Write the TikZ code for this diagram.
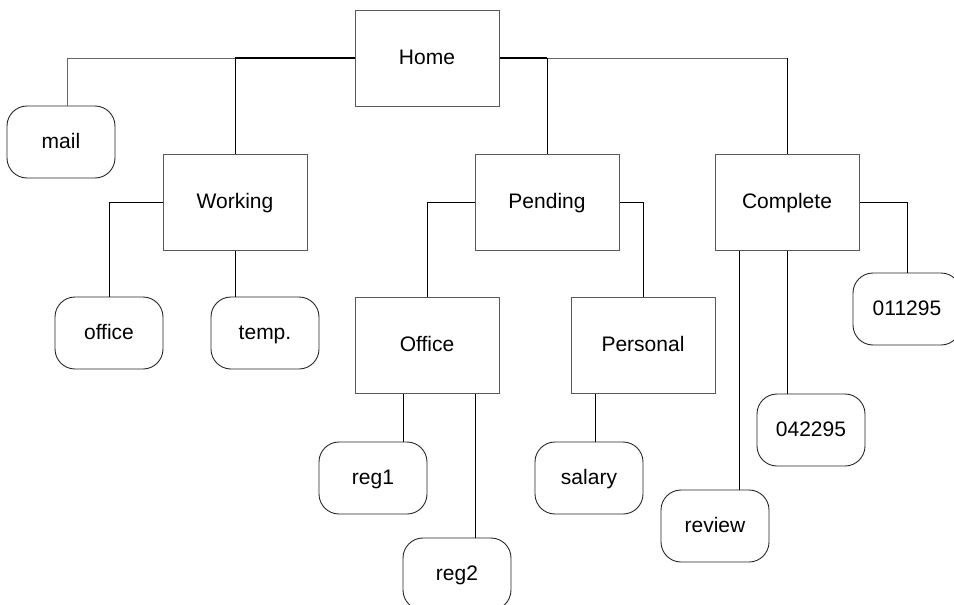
\documentclass[tikz,border=0pt]{standalone}
\usepackage{fontspec}
\setmainfont{Liberation Sans}
\usetikzlibrary{positioning}

\tikzset{
	folder/.style={rectangle, draw=black!65, line width=1pt, minimum width=144pt, minimum height=96pt, inner sep=0pt, text height=14.5pt, text depth=2pt},
	file/.style={rectangle, draw=black!85, line width=0.9pt, rounded corners=20pt, minimum width=108pt, minimum height=72pt, inner sep=0pt, text height=15pt, text depth=1.5pt},
	link/.style={black, line width=0.8pt},
	trunk/.style={black, line width=1.8pt},
	branch/.style={black!60, line width=1pt}
}

\begin{document}
\begin{tikzpicture}[x=1pt, y=-1pt, every node/.style={font=\fontsize{21pt}{24pt}\selectfont}]

	\useasboundingbox (0,0) rectangle (954,605);

	% folders
	\node[folder] (home)     at (427,58)  {Home};
	\node[folder] (working)  at (235,202) {Working};
	\node[folder] (pending)  at (547,202) {Pending};
	\node[folder] (complete) at (787,202) {Complete};
	\node[folder] (office)   at (427,345) {Office};
	\node[folder] (personal) at (643,345) {Personal};

	% files
	\node[file] (mail)   at (61,142)  {mail};
	\node[file] (offc)   at (109,333) {office};
	\node[file] (temp)   at (265,333) {temp.};
	\node[file] (regone) at (373,478) {reg1};
	\node[file] (regtwo) at (457,574) {reg2};
	\node[file] (salary) at (589,478) {salary};
	\node[file] (review) at (715,526) {review};
	\node[file] (dtwo)   at (811,430) {042295};
	\node[file] (done)   at (907,309) {011295};

	% top level
	\draw[trunk] (home.west) -- (home.west -| working.north);
	\draw[trunk] (home.east) -- (home.east -| pending.north);
	\draw[branch] (home.west -| working.north) -| ([xshift=6pt]mail.north);
	\draw[branch] (home.east -| pending.north) -| (complete.north);
	\draw[link] (working.north) -- (working.north |- home.west);
	\draw[link] (pending.north) -- (pending.north |- home.east);
	\draw[link] (complete.north) -- (complete.north |- home.east);

	% Working
	\draw[link] (working.west) -| (offc.north);
	\draw[link] (working.south) -- (working.south |- temp.north);

	% Pending
	\draw[link] (pending.west) -| (office.north);
	\draw[link] (pending.east) -| (personal.north);
	\draw[link] ([xshift=-24pt]office.south) -- ([xshift=-24pt]office.south |- regone.north);
	\draw[link] ([xshift=48pt]office.south) -- ([xshift=48pt]office.south |- regtwo.north);
	\draw[link] ([xshift=-48pt]personal.south) -- ([xshift=-48pt]personal.south |- salary.north);

	% Complete
	\draw[link] (complete.east) -| (done.north);
	\draw[link] ([xshift=-48pt]complete.south) -- ([xshift=-48pt]complete.south |- review.north);
	\draw[link] (complete.south) -- (complete.south |- dtwo.north);

\end{tikzpicture}
\end{document}
